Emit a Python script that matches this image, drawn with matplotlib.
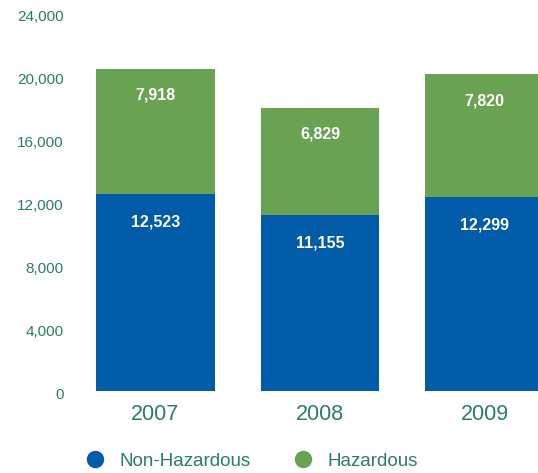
import matplotlib
matplotlib.use("Agg")
import matplotlib.pyplot as plt
from matplotlib.lines import Line2D
from matplotlib.transforms import ScaledTranslation
import numpy as np

years = ["2007", "2008", "2009"]
non_hazardous = [12523, 11155, 12299]
hazardous = [7918, 6829, 7820]
yticks = [0, 4000, 8000, 12000, 16000, 20000, 24000]

blue = "#005ba9"
green = "#6aa253"
txt = "#2b7f5e"

plt.rcParams['font.family'] = ['Liberation Sans', 'DejaVu Sans']

fig = plt.figure(figsize=(5.38, 4.73), dpi=100)
ax = fig.add_axes([90/538, (473-391)/473, (538-90)/538, (391-13)/473])
x = np.arange(len(years))
w = 0.723
ax.bar(x, non_hazardous, width=w, color=blue)
ax.bar(x, hazardous, width=w, bottom=non_hazardous, color=green)

for i in range(len(years)):
    ax.annotate(f"{non_hazardous[i]:,}", (x[i], non_hazardous[i]), xytext=(0, -20),
                textcoords="offset points", ha="center", va="center",
                color="white", fontsize=11.5, fontweight="bold")
    top = non_hazardous[i] + hazardous[i]
    ax.annotate(f"{hazardous[i]:,}", (x[i], top), xytext=(0, -19),
                textcoords="offset points", ha="center", va="center",
                color="white", fontsize=11.5, fontweight="bold")

ax.set_xlim((90-155.5)/164.5, (538-155.5)/164.5)
ax.set_ylim(0, 24000)
ax.set_yticks(yticks)
ax.set_yticklabels([])
ax.tick_params(axis="y", length=0)
shift = ScaledTranslation(-26/100, -4/100, fig.dpi_scale_trans)
for v in yticks:
    ax.text(0, v, f"{v:,}", transform=ax.get_yaxis_transform() + shift,
            ha="right", va="center", color=txt, fontsize=11, clip_on=False)
ax.set_xticks(x)
ax.set_xticklabels(years, color=txt, fontsize=15.5)
ax.tick_params(axis="x", length=0, pad=9)
for s in ax.spines.values():
    s.set_visible(False)

handles = [Line2D([], [], marker="o", linestyle="", markersize=11.5, color=blue),
           Line2D([], [], marker="o", linestyle="", markersize=11.5, color=green)]
leg = fig.legend(handles, ["Non-Hazardous", "Hazardous"], loc="center",
                 bbox_to_anchor=(0.468, 0.025), ncol=2, frameon=False,
                 fontsize=13.5, handletextpad=0.8, columnspacing=2.3,
                 handlelength=1.0)
for t in leg.get_texts():
    t.set_color(txt)

fig.savefig("out.png", dpi=100)
